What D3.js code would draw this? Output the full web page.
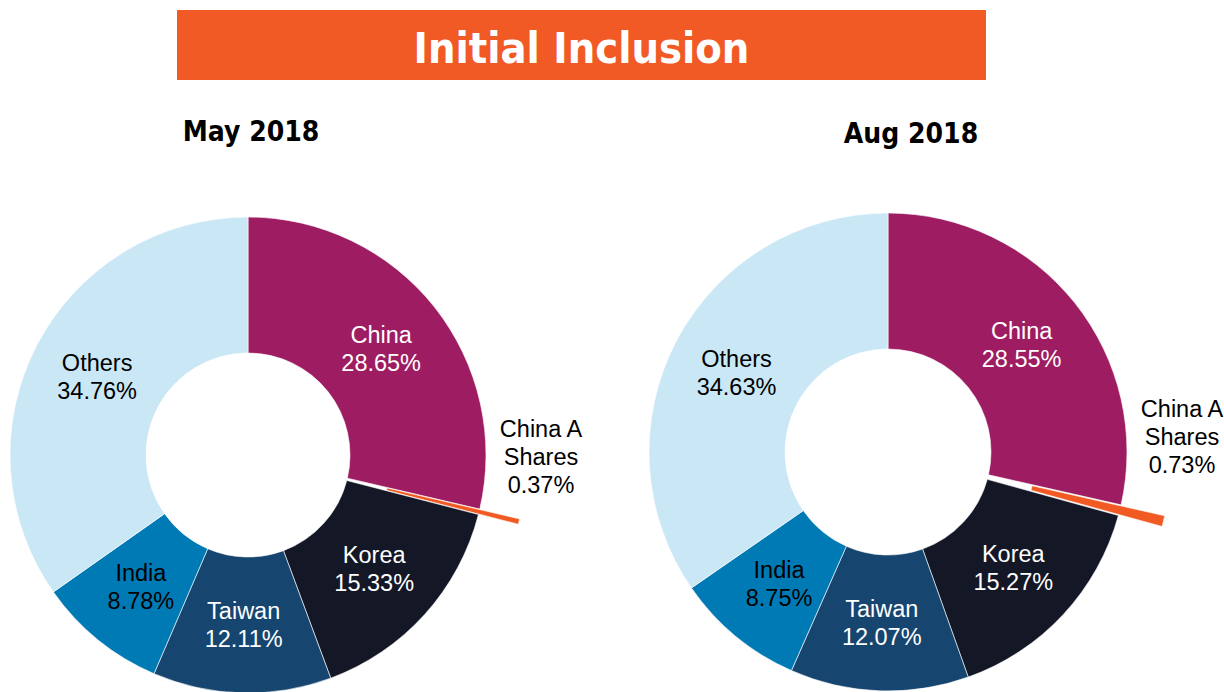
<!DOCTYPE html>
<html>
<head>
<meta charset="utf-8">
<script src="https://cdn.jsdelivr.net/npm/d3@7"></script>
<style>
  html, body { margin: 0; padding: 0; background: #fff; }
  svg { display: block; }
</style>
</head>
<body>
<svg id="chart" width="1224" height="692"></svg>
<script>
// Data
const categories = ["China", "China A Shares", "Korea", "Taiwan", "India", "Others"];
const labelNames = [["China"], ["China A", "Shares"], ["Korea"], ["Taiwan"], ["India"], ["Others"]];
const periods = ["May 2018", "Aug 2018"];
const may2018 = [28.65, 0.37, 15.33, 12.11, 8.78, 34.76];
const aug2018 = [28.55, 0.73, 15.27, 12.07, 8.75, 34.63];
const title = "Initial Inclusion";

// Styles
const sliceColors = ["#9e1c62", "#f15a22", "#141726", "#16456f", "#007ab5", "#cae7f6"];
const textColors = ["#fff", "#000", "#fff", "#fff", "#000", "#000"];
const outsideLabel = "China A Shares"; // slice that is pulled out
const headFont = "'DejaVu Sans Condensed', 'DejaVu Sans', sans-serif";
const labelFont = "'Liberation Sans', Arial, sans-serif";

const svg = d3.select("#chart");

// Title bar
svg.append("rect")
  .attr("x", 177).attr("y", 10)
  .attr("width", 809).attr("height", 70)
  .attr("fill", "#f15a24");
svg.append("text")
  .attr("x", 581.5).attr("y", 63)
  .attr("text-anchor", "middle")
  .attr("font-family", headFont)
  .attr("font-weight", "bold")
  .attr("font-size", 43)
  .attr("fill", "#fff")
  .text(title);

// One donut per period
const charts = [
  { values: may2018, cx: 248, cy: 455, outer: 238, inner: 102, explode: 41,
    titleX: 251, titleY: 141, calloutDx: 293, calloutDy: -18 },
  { values: aug2018, cx: 888, cy: 452, outer: 239, inner: 103, explode: 45,
    titleX: 911, titleY: 143, calloutDx: 294, calloutDy: -35 }
];

const pie = d3.pie().sort(null).value((d) => d.value);
const fmt = (v) => d3.format(".2f")(v) + "%";

charts.forEach((c, ci) => {
  const rows = categories.map((name, i) => ({
    name, value: c.values[i], color: sliceColors[i], textColor: textColors[i], lines: labelNames[i]
  }));
  const arc = d3.arc().innerRadius(c.inner).outerRadius(c.outer);
  const labelArc = d3.arc().innerRadius((c.inner + c.outer) / 2).outerRadius((c.inner + c.outer) / 2);

  svg.append("text")
    .attr("x", c.titleX).attr("y", c.titleY)
    .attr("text-anchor", "middle")
    .attr("font-family", headFont)
    .attr("font-weight", "bold")
    .attr("font-size", 28)
    .attr("fill", "#000")
    .text(periods[ci]);

  const g = svg.append("g").attr("transform", `translate(${c.cx},${c.cy})`);

  const arcs = pie(rows);

  g.selectAll("path")
    .data(arcs)
    .join("path")
    .attr("d", arc)
    .attr("fill", (d) => d.data.color)
    .attr("stroke", "#fff")
    .attr("stroke-width", 0.6)
    .attr("transform", (d) => {
      if (d.data.name !== outsideLabel) return null;
      const mid = (d.startAngle + d.endAngle) / 2;
      return `translate(${c.explode * Math.sin(mid)},${-c.explode * Math.cos(mid)})`;
    });

  // labels
  arcs.forEach((d) => {
    const lines = d.data.lines.concat([fmt(d.data.value)]);
    let x, y0;
    if (d.data.name === outsideLabel) {
      x = c.calloutDx;
      y0 = c.calloutDy;
    } else {
      const [lx, ly] = labelArc.centroid(d);
      x = lx;
      y0 = ly - 6;
    }
    const t = g.append("text")
      .attr("text-anchor", "middle")
      .attr("font-family", labelFont)
      .attr("font-size", 23.5)
      .attr("fill", d.data.textColor);
    lines.forEach((s, i) => {
      t.append("tspan").attr("x", x).attr("y", y0 + i * 28).text(s);
    });
  });
});
</script>
</body>
</html>
